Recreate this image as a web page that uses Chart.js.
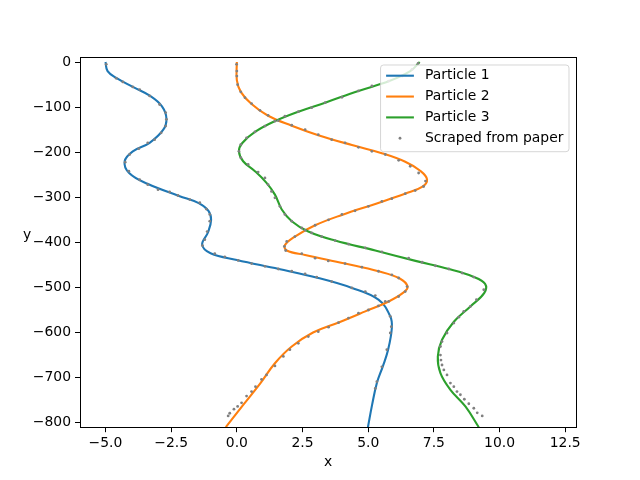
<!DOCTYPE html>
<html>
<head>
<meta charset="utf-8">
<script src="https://cdn.jsdelivr.net/npm/chart.js@4"></script>
<style>
  html, body { margin: 0; padding: 0; background: #fff; }
  #wrap { width: 640px; height: 480px; }
</style>
</head>
<body>
<div id="wrap"><canvas id="chart" width="640" height="480"></canvas></div>
<script>
// axis setup
const x_min = -5.97, x_max = 12.91;
const y_min = -810, y_max = 10;
const x_ticks = [-5, -2.5, 0, 2.5, 5, 7.5, 10, 12.5];
const y_ticks = [0, -100, -200, -300, -400, -500, -600, -700, -800];
const x_label = 'x';
const y_label = 'y';

const labels = ['Particle 1', 'Particle 2', 'Particle 3', 'Scraped from paper'];

// simulated trajectories (x position vs depth y)
const p1_x = [-5.0, -4.92, -4.59, -3.96, -3.3, -2.85, -2.68, -2.8, -3.32, -3.96, -4.27, -4.1, -3.4, -2.2, -1.45, -1.08, -0.98, -1.1, -1.32, -1.0, 0.0, 1.6, 3.1, 4.38, 5.39, 5.84, 5.90, 5.75, 5.55, 5.33, 5.15, 4.99];
const p1_y = [0, -20, -35, -55, -75, -98, -125, -150, -179, -198, -220, -246, -270, -297, -313, -330, -350, -378, -405, -424, -439, -459, -479, -501, -527, -564, -590, -640, -676, -712, -760, -810];

const p2_x = [0, 0, 0.15, 0.56, 1.19, 2.09, 3.10, 4.38, 5.52, 6.41, 6.98, 7.24, 7.05, 6.4, 5.3, 4.0, 2.98, 2.21, 1.83, 1.9, 2.6, 4.12, 5.39, 6.2, 6.5, 6.35, 5.78, 4.89, 3.9, 2.9, 2.09, 1.45, 0.9, 0.25, -0.42];
const p2_y = [0, -40, -66, -93, -119, -141, -162, -184, -202, -221, -241, -260, -277, -292, -314, -339, -362, -387, -406, -418, -428, -447, -464, -480, -498, -511, -531, -553, -577, -600, -631, -668, -712, -760, -810];

const p3_x = [6.96, 6.6, 5.8, 4.63, 3.36, 2.34, 1.45, 0.69, 0.2, 0.08, 0.24, 0.69, 1.13, 1.45, 1.71, 2.09, 2.72, 3.74, 5.27, 6.8, 8.07, 9.0, 9.45, 9.42, 8.89, 8.26, 7.81, 7.65, 7.75, 8.13, 8.70, 9.21];
const p3_y = [0, -20, -42, -64, -90, -110, -131, -155, -180, -198, -220, -242, -268, -294, -327, -353, -376, -396, -418, -441, -459, -476, -492, -512, -542, -576, -616, -653, -690, -727, -764, -810];

// points scraped from the paper
const s1_x = [-4.97, -4.59, -4.34, -3.96, -3.70, -3.32, -2.94, -2.71, -2.68, -2.71, -2.88, -3.13, -3.39, -3.73, -4.08, -4.25, -4.11, -3.70, -3.39, -3.0, -2.56, -2.24, -1.79, -1.41, -1.16, -1.03, -1.03, -1.13, -1.22, -1.31, -0.84, -0.46, 0.05, 0.56, 1.07, 1.58, 2.09, 2.60, 3.04, 3.61, 4.38, 4.89, 5.27, 5.65, 5.84, 5.88, 5.84, 5.71, 5.52, 5.33, 5.27];
const s1_y = [-5, -36, -44, -55, -61, -75, -94, -112, -127, -142, -157, -172, -179, -192, -205, -222, -242, -261, -272, -283, -288, -296, -305, -312, -326, -338, -353, -376, -394, -407, -425, -432, -440, -447, -453, -459, -464, -470, -477, -487, -501, -509, -518, -531, -564, -587, -601, -638, -676, -709, -724];

const s2_x = [-0.01, 0, 0, 0.03, 0.15, 0.31, 0.56, 0.88, 1.19, 1.58, 2.09, 2.60, 3.10, 3.61, 4.12, 4.63, 5.14, 5.65, 6.16, 6.60, 6.92, 7.18, 7.11, 6.79, 6.41, 5.90, 5.52, 5.01, 4.50, 4.0, 3.49, 2.98, 2.60, 2.21, 1.90, 1.81, 1.86, 2.47, 2.98, 3.48, 4.12, 4.76, 5.39, 5.90, 6.16, 6.48, 6.41, 6.16, 5.78, 5.39, 5.01, 4.63, 4.25, 3.87, 3.49, 3.10, 2.72, 2.34, 2.02, 1.77, 1.45, 1.13, 0.94, 0.71, 0.56, 0.37, 0.18, 0.03, -0.11, -0.27, -0.33];
const s2_y = [-5, -20, -31, -50, -66, -79, -92, -107, -118, -130, -140, -150, -161, -172, -179, -189, -198, -205, -218, -231, -246, -264, -276, -285, -292, -303, -309, -320, -330, -338, -350, -362, -373, -387, -398, -409, -418, -425, -435, -441, -447, -455, -464, -472, -479, -498, -509, -520, -531, -541, -550, -557, -568, -578, -588, -598, -609, -624, -638, -653, -674, -694, -704, -720, -731, -741, -756, -764, -770, -779, -785];

const s3_x = [6.9, 6.67, 6.29, 5.78, 5.14, 4.63, 4.0, 3.36, 2.85, 2.34, 1.83, 1.45, 1.07, 0.69, 0.37, 0.15, 0.08, 0.15, 0.43, 0.81, 1.07, 1.19, 1.32, 1.45, 1.64, 1.83, 2.09, 2.47, 2.85, 3.23, 3.74, 4.25, 4.89, 5.52, 6.54, 7.05, 7.56, 8.07, 8.58, 9.02, 9.40, 9.12, 8.89, 8.64, 8.45, 8.26, 8.0, 7.81, 7.75, 7.75, 7.77, 7.81, 7.88, 8.0, 8.13, 8.26, 8.38, 8.51, 8.66, 8.83, 9.02, 9.15, 9.34];
const s3_y = [-3, -16, -31, -42, -53, -64, -78, -90, -101, -110, -120, -131, -142, -155, -168, -183, -198, -212, -227, -244, -257, -272, -287, -301, -320, -338, -353, -368, -379, -387, -396, -404, -412, -421, -435, -444, -452, -459, -468, -477, -505, -527, -542, -553, -566, -579, -601, -620, -631, -650, -661, -672, -683, -694, -712, -720, -731, -738, -748, -758, -768, -778, -785];

const colors = ['#1f77b4', '#ff7f0e', '#2ca02c', '#808080'];
const font_px = 13.9;
const font_family = "'DejaVu Sans', sans-serif";

function toPoints(xs, ys) {
    return xs.map((x, i) => ({x: x, y: ys[i]}));
}

function minusSign(s) {
    return String(s).replace('-', '\u2212');
}

function lineDataset(i, xs, ys) {
    return {
        label: labels[i],
        data: toPoints(xs, ys),
        showLine: true,
        borderColor: colors[i],
        backgroundColor: colors[i],
        borderWidth: 2.1,
        pointRadius: 0,
        tension: 0.4,
        order: 4 - i
    };
}

const scraped = toPoints(s1_x, s1_y)
    .concat(toPoints(s2_x, s2_y))
    .concat(toPoints(s3_x, s3_y));

// spines, legend box and axis titles, matplotlib style
const decorations = {
    id: 'decorations',
    afterDatasetsDraw(chart) {
        const ctx = chart.ctx;
        const a = chart.chartArea;
        ctx.save();

        ctx.strokeStyle = '#000';
        ctx.lineWidth = 1;
        const l = Math.floor(a.left) + 0.5, r = Math.floor(a.right) + 0.5;
        const t = Math.floor(a.top) + 0.5, b = Math.floor(a.bottom) + 0.5;
        ctx.strokeRect(l, t, r - l, b - t);

        // legend, upper right
        ctx.font = `${font_px}px ${font_family}`;
        const sets = chart.data.datasets;
        const text_w = Math.max(...sets.map(d => ctx.measureText(d.label).width));
        const pad = 0.4 * font_px, handle = 2 * font_px, gap = 0.8 * font_px;
        const pitch = 1.5 * font_px;
        const box_w = pad * 2 + handle + gap + text_w;
        const box_h = sets.length * pitch + 3.3;
        const box_x = a.right - 7 - box_w;
        const box_y = a.top + 7.4;

        ctx.beginPath();
        ctx.roundRect(box_x, box_y, box_w, box_h, 3);
        ctx.fillStyle = 'rgba(255,255,255,0.8)';
        ctx.fill();
        ctx.strokeStyle = 'rgba(204,204,204,0.8)';
        ctx.stroke();

        sets.forEach((d, i) => {
            const cy = box_y + 0.77 * font_px + i * pitch;
            const hx = box_x + pad;
            if (d.showLine) {
                ctx.strokeStyle = d.borderColor;
                ctx.lineWidth = 2.1;
                ctx.beginPath();
                ctx.moveTo(hx, cy);
                ctx.lineTo(hx + handle, cy);
                ctx.stroke();
            } else {
                ctx.fillStyle = d.backgroundColor;
                ctx.beginPath();
                ctx.arc(hx + handle / 2, cy, 1.4, 0, Math.PI * 2);
                ctx.fill();
            }
            ctx.fillStyle = '#000';
            ctx.textBaseline = 'middle';
            ctx.textAlign = 'left';
            ctx.fillText(d.label, hx + handle + gap, cy);
        });

        // axis titles
        ctx.fillStyle = '#000';
        ctx.textAlign = 'center';
        ctx.textBaseline = 'middle';
        ctx.fillText(x_label, (a.left + a.right) / 2, 462);
        ctx.fillText(y_label, 27, (a.top + a.bottom) / 2 - 7);
        ctx.restore();
    }
};

Chart.defaults.font.family = font_family;
Chart.defaults.font.size = font_px;
Chart.defaults.color = '#000';

const chart = new Chart(document.getElementById('chart'), {
    type: 'scatter',
    data: {
        datasets: [
            lineDataset(0, p1_x, p1_y),
            lineDataset(1, p2_x, p2_y),
            lineDataset(2, p3_x, p3_y),
            {
                label: labels[3],
                data: scraped,
                showLine: false,
                backgroundColor: colors[3],
                borderWidth: 0,
                pointRadius: 1.4,
                order: 0
            }
        ]
    },
    options: {
        responsive: false,
        animation: false,
        devicePixelRatio: 1,
        layout: { padding: { top: 57.6, right: 64, bottom: 0, left: 0 } },
        plugins: {
            legend: { display: false },
            tooltip: { enabled: false }
        },
        scales: {
            x: {
                type: 'linear',
                min: x_min,
                max: x_max,
                afterBuildTicks: s => { s.ticks = x_ticks.map(v => ({value: v})); },
                afterFit: s => { s.height = 52.8; s.paddingLeft = 0; s.paddingRight = 0; },
                ticks: {
                    autoSkip: false,
                    maxRotation: 0,
                    padding: 3,
                    callback: v => minusSign(v.toFixed(1))
                },
                grid: { drawOnChartArea: false, tickLength: 5, color: '#000' },
                border: { display: false }
            },
            y: {
                type: 'linear',
                min: y_min,
                max: y_max,
                afterBuildTicks: s => { s.ticks = y_ticks.map(v => ({value: v})); },
                afterFit: s => { s.width = 80; s.paddingTop = 0; s.paddingBottom = 0; },
                ticks: {
                    autoSkip: false,
                    padding: 4,
                    callback: v => minusSign(v)
                },
                grid: { drawOnChartArea: false, tickLength: 5, color: '#000' },
                border: { display: false }
            }
        }
    },
    plugins: [decorations]
});
</script>
</body>
</html>
